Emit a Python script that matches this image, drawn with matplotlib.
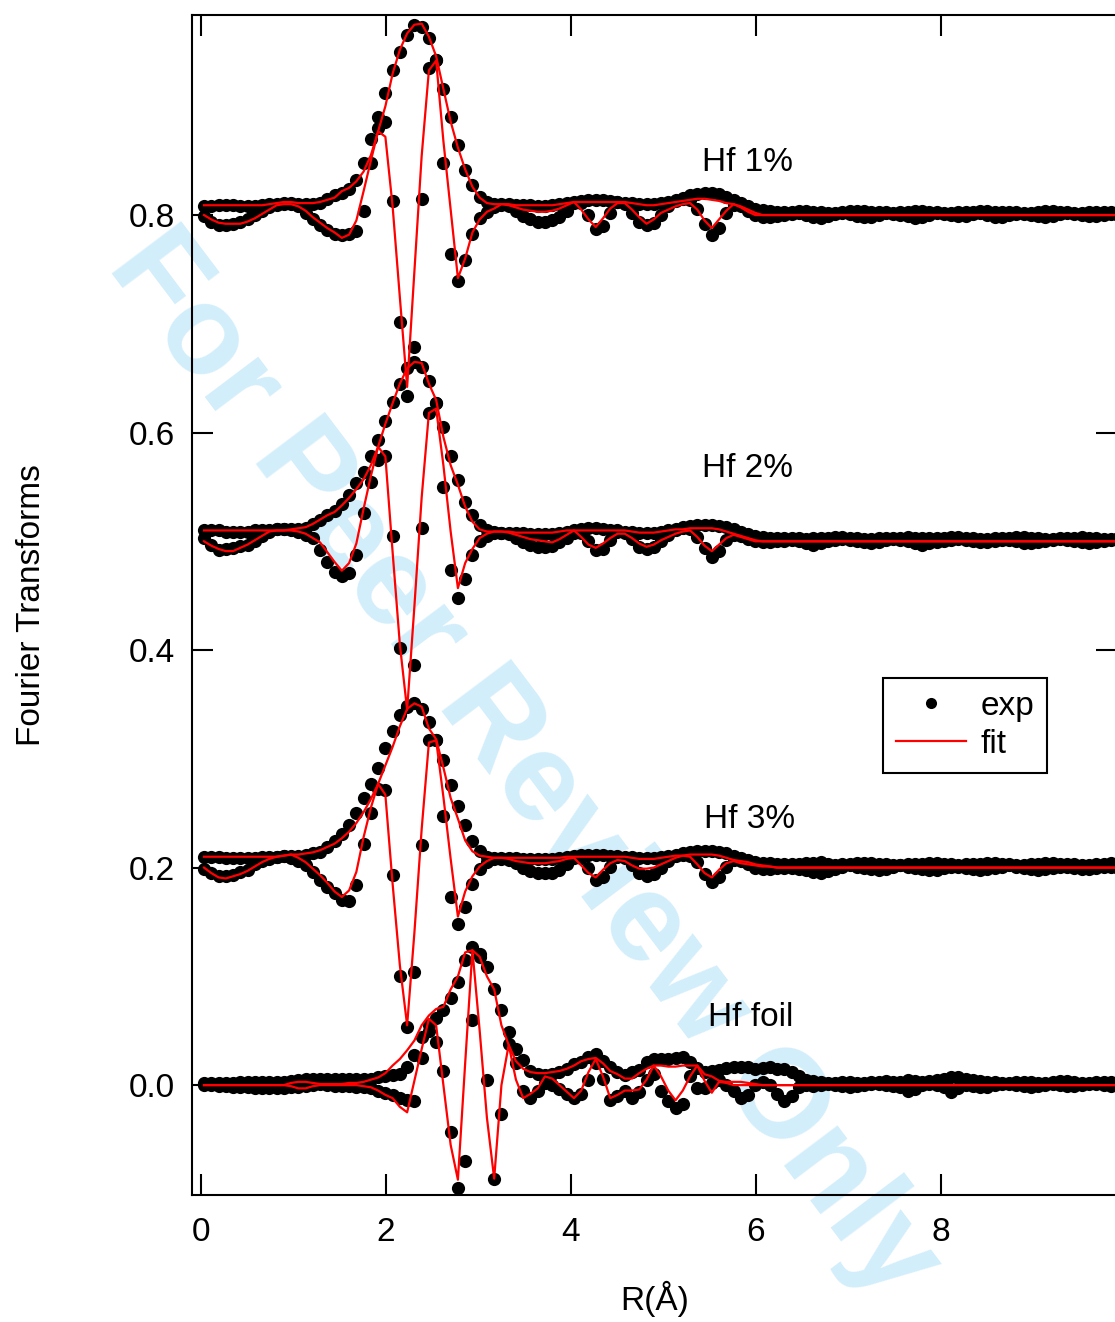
import numpy as np
import matplotlib
matplotlib.use("Agg")
import matplotlib.pyplot as plt

plt.rcParams['font.family'] = ['Liberation Sans', 'DejaVu Sans']

# R grid of the transforms (Angstrom)
R0 = 0.03
DR = 0.0785

# vertical offsets of the stacked spectra
off_hf1 = 0.8
off_hf2 = 0.5
off_hf3 = 0.2
off_foil = 0.0

# all values in units of 1e-3, before the offset is added
# ---- Hf 1% ----
hf1_mag = [8, 8, 9, 9, 9, 8, 8, 8, 9, 10, 10, 11, 11, 10, 10, 10,
           11, 15, 18, 20, 24, 32, 48, 70, 90, 112, 133, 150, 166, 175, 173, 163, 143, 116, 90, 64, 41, 28, 17, 12, 10,
           10, 10, 9, 9, 9, 8, 8, 9, 10, 11, 12, 13, 14, 14, 14, 13, 12, 11, 11, 10, 10, 10, 11, 12, 14, 16, 18, 19, 20, 20,
           19, 17, 14, 11, 8, 6, 5, 4, 3, 3,
           3, 4, 4, 3, 3, 2, 2, 3, 4, 4, 4, 3, 3, 3, 2, 3, 3, 4, 4, 3, 3, 2, 2, 3, 3, 3, 4, 4, 3, 3, 3, 3, 2, 2, 3, 4,
           4, 3, 3, 2, 2, 3, 3, 3, 3, 3]
hf1_im = [-1, -6, -9, -9, -8, -6, -4, 0, 4, 7, 9, 10, 10, 8, 2, -4,
          -9, -14, -17, -18, -17, -15, 4, 48, 80, 86, 13, -98, -166, -121, 15, 135, 143, 48, -36, -61, -41, -17, -3, 3, 7,
          9, 8, 4, -1, -4, -6, -6, -5, -2, 4, 11, 11, 0, -13, -10, 2, 12, 10, 2, -6, -9, -7, 0, 8, 13, 15, 14, 6, -8, -18,
          -12, 2, 9, 8, 4, 0, -2, -2, -1, 0,
          1, 2, 0, -2, -3, -1, 1, 2, 1, -1, -2, -2, 0, 2, 1, 0, -1, -3, -2, 0, 2, 1, 0, -1, -1, 1, 2, 0, -2, -2, 0, 1,
          1, 0, -1, -2, -1, 1, 2, 1, 0, -1, -1, 0, 1, 0]
hf1_mag_fit = [9, 9, 9, 9, 9, 9, 9, 9, 9, 10, 11, 12, 12, 11, 11, 11,
               12, 14, 16, 22, 25, 31, 40, 55, 77, 100, 130, 152, 167, 175, 176, 164, 146, 116, 86, 62, 42, 26, 16, 11, 10,
               10, 10, 9, 9, 9, 9, 9, 9, 10, 11, 12, 12, 12, 12, 12, 12, 12, 12, 11, 10, 9, 9, 10, 11, 12, 13, 14, 15, 15, 14,
               13, 11, 10, 8, 5, 2, 0, 0, 0, 0,
               0, 0, 0, 0, 0, 0, 0, 0, 0, 0, 0, 0, 0, 0, 0, 0, 0, 0, 0, 0, 0, 0, 0, 0, 0, 0, 0, 0, 0, 0, 0, 0,
               0, 0, 0, 0, 0, 0, 0, 0, 0, 0, 0, 0, 0, 0]
hf1_im_fit = [0, -4, -7, -8, -8, -8, -6, -3, 1, 5, 9, 10, 10, 8, 4, -2,
              -7, -12, -16, -21, -18, -5, 22, 50, 77, 72, 8, -76, -158, -52, 54, 133, 142, 68, 5, -58, -40, -16, -4, 3, 6,
              10, 9, 7, 5, 4, 3, 3, 4, 6, 9, 12, 5, -4, -11, -3, 6, 11, 11, 5, -2, -8, -4, 2, 5, 8, 10, 11, 5, -5, -12,
              -4, 4, 10, 7, 3, 0, 0, 0, 0, 0,
              0, 0, 0, 0, 0, 0, 0, 0, 0, 0, 0, 0, 0, 0, 0, 0, 0, 0, 0, 0, 0, 0, 0, 0, 0, 0, 0, 0, 0, 0, 0, 0,
              0, 0, 0, 0, 0, 0, 0, 0, 0, 0, 0, 0, 0, 0]

# ---- Hf 2% ----
hf2_mag = [10, 10, 10, 9, 9, 9, 9, 10, 10, 10, 11, 11, 11, 11, 12, 16,
           20, 24, 28, 34, 43, 54, 64, 78, 93, 111, 128, 145, 159, 165, 160, 147, 127, 105, 78, 56, 36, 24, 15, 10, 9,
           8, 8, 8, 8, 7, 7, 7, 7, 8, 9, 10, 11, 12, 12, 11, 10, 10, 9, 9, 8, 8, 8, 9, 10, 11, 13, 14, 15, 15, 15,
           14, 13, 11, 9, 7, 5, 4, 3, 3, 3,
           3, 3, 2, 3, 3, 3, 4, 4, 3, 3, 2, 2, 3, 3, 3, 3, 4, 3, 3, 3, 3, 3, 4, 4, 3, 3, 2, 2, 3, 3, 3, 4,
           4, 3, 3, 2, 2, 3, 3, 3, 4, 3, 3, 2, 2, 3]
hf2_im = [3, -3, -8, -7, -6, -4, -3, 0, 5, 9, 11, 11, 10, 9, 6, 3,
          -8, -19, -28, -32, -29, -13, 26, 55, 75, 78, 5, -98, -152, -114, 12, 118, 127, 50, -26, -52, -35, -13, 0, 5, 8,
          8, 7, 3, -1, -3, -5, -5, -4, -1, 3, 8, 8, 0, -8, -7, 1, 9, 8, 2, -5, -7, -5, 0, 6, 10, 12, 11, 4, -6, -14,
          -9, 1, 6, 5, 2, 0, -1, -1, 0, 0,
          1, 0, -2, -3, -2, 0, 1, 2, 1, 0, -1, -2, -1, 1, 2, 1, 0, -2, -3, -2, -1, 0, 1, 2, 1, 0, -1, -1, 0, 1, 1, 0,
          -2, -2, -1, 0, 1, 2, 1, 0, -1, -2, -1, 0, 1, 1]
hf2_mag_fit = [10, 10, 10, 10, 10, 10, 10, 10, 10, 10, 10, 10, 11, 12, 13, 16,
               20, 24, 27, 33, 40, 48, 57, 70, 87, 108, 127, 145, 159, 165, 164, 145, 130, 96, 70, 52, 32, 18, 11, 9, 9,
               9, 9, 8, 8, 8, 8, 8, 8, 9, 10, 10, 10, 10, 10, 10, 10, 10, 10, 9, 8, 8, 8, 9, 10, 11, 11, 12, 12, 12, 12,
               11, 9, 7, 5, 3, 1, 0, 0, 0, 0,
               0, 0, 0, 0, 0, 0, 0, 0, 0, 0, 0, 0, 0, 0, 0, 0, 0, 0, 0, 0, 0, 0, 0, 0, 0, 0, 0, 0, 0, 0, 0, 0,
               0, 0, 0, 0, 0, 0, 0, 0, 0, 0, 0, 0, 0, 0]
hf2_im_fit = [0, -4, -7, -9, -9, -6, -3, 1, 5, 9, 10, 10, 10, 9, 7, 3,
              -1, -10, -19, -27, -20, -2, 30, 60, 87, 78, -10, -95, -155, -60, 40, 118, 122, 70, 9, -43, -20, -7, 3, 7, 9,
              9, 8, 6, 4, 2, 1, 0, -1, 2, 6, 10, 4, -3, -6, -2, 3, 7, 7, 3, -2, -5, -3, 1, 4, 7, 9, 10, 4, -4, -9,
              -3, 3, 6, 4, 2, 0, 0, 0, 0, 0,
              0, 0, 0, 0, 0, 0, 0, 0, 0, 0, 0, 0, 0, 0, 0, 0, 0, 0, 0, 0, 0, 0, 0, 0, 0, 0, 0, 0, 0, 0, 0, 0,
              0, 0, 0, 0, 0, 0, 0, 0, 0, 0, 0, 0, 0, 0]

# ---- Hf 3% ----
hf3_mag = [10, 10, 10, 9, 9, 9, 9, 9, 10, 10, 10, 11, 11, 11, 12, 13,
           14, 19, 24, 31, 39, 50, 64, 77, 92, 110, 126, 140, 149, 151, 146, 134, 117, 99, 76, 57, 39, 24, 15, 10, 9,
           9, 9, 9, 8, 8, 8, 8, 8, 9, 10, 11, 12, 12, 12, 12, 11, 11, 10, 10, 9, 9, 9, 10, 11, 12, 13, 14, 15, 15, 15,
           14, 13, 11, 9, 7, 5, 4, 4, 3, 3,
           3, 3, 4, 4, 5, 3, 2, 3, 3, 4, 4, 4, 3, 3, 2, 2, 3, 3, 3, 4, 4, 3, 3, 2, 3, 3, 3, 4, 4, 3, 3, 2,
           2, 3, 3, 4, 4, 3, 3, 3, 2, 2, 3, 3, 4, 3]
hf3_im = [-1, -5, -8, -8, -7, -4, -2, 3, 6, 8, 10, 11, 9, 6, 2, -4,
          -11, -18, -23, -30, -31, -16, 22, 50, 72, 71, -7, -100, -147, -96, 21, 117, 117, 47, -27, -52, -36, -15, -1, 5, 8,
          8, 7, 4, 0, -3, -5, -5, -5, -2, 3, 9, 9, 0, -11, -9, 1, 10, 9, 2, -5, -8, -6, 0, 6, 11, 12, 11, 5, -6, -13,
          -9, 1, 7, 6, 3, 0, -1, -1, 0, 0,
          0, -1, -2, -4, -5, -3, -1, 1, 2, 1, 0, -1, -2, -1, 1, 2, 1, 0, -1, -2, -2, 0, 1, 1, 0, -1, -2, -1, 0, 1, 2, 1,
          0, -1, -2, -1, 0, 1, 1, 0, -1, -1, 0, 1, 1, 0]
hf3_mag_fit = [10, 10, 10, 10, 10, 10, 10, 10, 10, 10, 10, 11, 12, 12, 13, 14,
               16, 19, 22, 27, 33, 41, 51, 63, 77, 94, 111, 130, 146, 151, 148, 128, 118, 92, 64, 45, 25, 15, 11, 10, 9,
               9, 9, 9, 9, 9, 9, 9, 9, 9, 10, 10, 10, 10, 10, 10, 10, 10, 10, 9, 8, 8, 8, 9, 10, 11, 11, 12, 12, 12, 12,
               11, 9, 7, 6, 5, 3, 2, 1, 0, 0,
               0, 0, 0, 0, 0, 0, 0, 0, 0, 0, 0, 0, 0, 0, 0, 0, 0, 0, 0, 0, 0, 0, 0, 0, 0, 0, 0, 0, 0, 0, 0, 0,
               0, 0, 0, 0, 0, 0, 0, 0, 0, 0, 0, 0, 0, 0]
hf3_im_fit = [0, -5, -9, -10, -8, -6, -3, 1, 5, 8, 10, 11, 12, 9, 5, -1,
              -7, -14, -22, -27, -21, -4, 28, 55, 77, 67, -15, -90, -145, -60, 35, 115, 117, 65, 8, -45, -22, -8, 1, 6, 9,
              9, 8, 6, 5, 4, 4, 4, 5, 6, 8, 9, 2, -5, -9, -2, 4, 7, 6, 2, -1, -1, 0, 3, 6, 9, 11, 10, 3, -5, -9,
              -2, 4, 6, 4, 3, 2, 1, 1, 0, 0,
              0, 0, 0, 0, 0, 0, 0, 0, 0, 0, 0, 0, 0, 0, 0, 0, 0, 0, 0, 0, 0, 0, 0, 0, 0, 0, 0, 0, 0, 0, 0, 0,
              0, 0, 0, 0, 0, 0, 0, 0, 0, 0, 0, 0, 0, 0]

# ---- Hf foil ----
foil_mag = [2, 2, 2, 2, 2, 3, 3, 3, 3, 3, 3, 3, 4, 5, 6, 6, 6, 6, 6, 6,
            6, 6, 6, 6, 7, 8, 9, 10, 17, 28, 44, 55, 62, 69, 80, 95, 115, 127, 121, 109, 88, 69, 49, 33,
            23, 13, 10, 9, 10, 12, 15, 19, 21, 26, 29, 22, 17, 12, 9, 12, 14, 21, 24, 24, 24, 25, 26, 21, 16, 12,
            13, 14, 16, 17, 17, 17, 15, 16, 17, 15, 15, 12, 8, 5, 4,
            3, 2, 2, 3, 3, 2, 2, 3, 3, 4, 3, 3, 5, 4, 3, 4, 5, 6, 7, 7, 6, 5, 4, 3, 3, 2, 2, 3, 3, 3, 2, 2,
            3, 4, 4, 3, 2, 2, 3, 3, 3, 2]
foil_im = [0, 0, -1, -1, -2, -2, -2, -3, -3, -3, -3, -3, -2, -2, -1, 0, 1, 0, -1, -1,
           -1, -2, -2, -3, -5, -7, -9, -12, -14, -15, 25, 50, 40, 13, -43, -95, -70, 60, 118, 5, -86, -27, 38, 20,
           -5, -12, -5, 2, 0, -4, -8, -12, -8, 5, 20, 6, -14, -10, -5, -12, -6, 5, 10, -5, -15, -21, -17, 8, -3, -3,
           2, 5, 0, -5, -12, -9, 0, 3, 0, -8, -15, -10, -2, 0, -1,
           0, 1, 0, -1, -2, -1, 0, 1, 1, 0, -1, -2, -5, -4, 0, 1, 0, -2, -6, -3, 0, -1, -2, -2, 0, 1, 1, 0, -1, -2, -1, 0,
           1, 0, -1, -1, 0, 1, 1, 0, -1, 0]
foil_mag_fit = [0, 0, 0, 0, 0, 0, 0, 0, 0, 0, 0, 0, 2, 3, 3, 2, 1, 1, 1, 1, 2,
                2, 3, 5, 7, 11, 18, 24, 32, 41, 55, 64, 70, 72, 88, 100, 122, 124, 118, 100, 88, 55, 37, 22,
                15, 12, 11, 11, 12, 13, 15, 18, 22, 24, 25, 20, 13, 10, 6, 6, 11, 15, 18, 18, 17, 17, 18, 18, 18, 10,
                8, 4, 3, 3, 3, 2, 1, 0, 0, 0, 0,
                0, 0, 0, 0, 0, 0, 0, 0, 0, 0, 0, 0, 0, 0, 0, 0, 0, 0, 0, 0, 0, 0, 0, 0, 0, 0, 0, 0, 0, 0, 0, 0,
                0, 0, 0, 0, 0, 0, 0, 0, 0, 0, 0, 0, 0, 0]
foil_im_fit = [0, 0, 0, 0, 0, 0, 0, 0, 0, 0, 0, 0, -1, -3, -3, -1, 0, 0, 0, 0, 0,
               0, -1, -2, -5, -9, -12, -20, -25, 4, 33, 61, 55, 0, -55, -87, 20, 124, 50, -30, -86, 0, 37, 5,
               -12, -8, -3, 8, 6, 0, -6, -12, -5, 12, 24, 8, -12, -9, -5, -5, -4, 5, 18, 8, -5, -14, -5, 8, 18, 4,
               -7, 3, 2, 0, 0, 0, 0, 0, 0, 0, 0,
               0, 0, 0, 0, 0, 0, 0, 0, 0, 0, 0, 0, 0, 0, 0, 0, 0, 0, 0, 0, 0, 0, 0, 0, 0, 0, 0, 0, 0, 0, 0, 0,
               0, 0, 0, 0, 0, 0, 0, 0, 0, 0, 0, 0, 0, 0]

sample_labels = ["Hf 1%", "Hf 2%", "Hf 3%", "Hf foil"]
label_pos = [(5.42, 0.8405), (5.42, 0.5591), (5.44, 0.2363), (5.48, 0.0543)]
yticks = [0.0, 0.2, 0.4, 0.6, 0.8]
xticks = [0, 2, 4, 6, 8]


def r_of(vals):
    return R0 + DR * np.arange(len(vals))


fig = plt.figure(figsize=(11.15, 13.22), dpi=100)
ax = fig.add_axes([0.1722, 0.0961, 0.8296, 0.8926])
ax.set_facecolor('none')

spectra = [
    (off_hf1, hf1_mag, hf1_im, hf1_mag_fit, hf1_im_fit),
    (off_hf2, hf2_mag, hf2_im, hf2_mag_fit, hf2_im_fit),
    (off_hf3, hf3_mag, hf3_im, hf3_mag_fit, hf3_im_fit),
    (off_foil, foil_mag, foil_im, foil_mag_fit, foil_im_fit),
]

# experimental points first, fits drawn on top
for off, mag, im, magf, imf in spectra:
    for v in (mag, im):
        ax.plot(r_of(v), off + np.array(v) / 1000.0, 'o', color='black',
                ms=9.5, mew=0, zorder=2)
for off, mag, im, magf, imf in spectra:
    for v in (magf, imf):
        ax.plot(r_of(v), off + np.array(v) / 1000.0, '-', color='red',
                lw=1.6, zorder=3)

for txt, (x, y) in zip(sample_labels, label_pos):
    ax.text(x, y, txt, fontsize=24, ha='left', va='baseline', zorder=4)

# legend
h_exp, = ax.plot([], [], 'o', color='black', ms=8, mew=0, label='exp')
h_fit, = ax.plot([], [], '-', color='red', lw=1.6, label='fit')
leg = ax.legend(handles=[h_exp, h_fit], loc='upper left', bbox_to_anchor=(0.747, 0.438),
                borderaxespad=0, fontsize=24, numpoints=1, fancybox=False, framealpha=1,
                edgecolor='black', borderpad=0.38, labelspacing=0.22,
                handlelength=2.1, handletextpad=0.45)
leg.get_frame().set_linewidth(1.5)

ax.set_xlim(-0.1, 9.91)
ax.set_ylim(-0.101, 0.984)
ax.set_xticks(xticks)
ax.set_yticks(yticks)
ax.set_xticklabels([str(t) for t in xticks])
ax.set_yticklabels([f"{t:.1f}" for t in yticks])
ax.tick_params(direction='in', length=15, width=1.5, top=True, right=True, labelsize=24)
ax.tick_params(axis='x', pad=16)
ax.tick_params(axis='y', pad=12)
for s in ax.spines.values():
    s.set_linewidth(1.5)

ax.set_xlabel("R(Å)", fontsize=24)
ax.set_ylabel("Fourier Transforms", fontsize=24)
ax.xaxis.set_label_coords(0.5, -0.073)
ax.yaxis.set_label_coords(-0.157, 0.5)

# watermark behind the plot
fig.text(0.469, 0.421, "For Peer Review Only", fontsize=91, fontweight='bold',
         color='#d3eefb', rotation=-53, ha='center', va='center',
         rotation_mode='anchor', zorder=-1)

fig.savefig("out.png", dpi=100)
